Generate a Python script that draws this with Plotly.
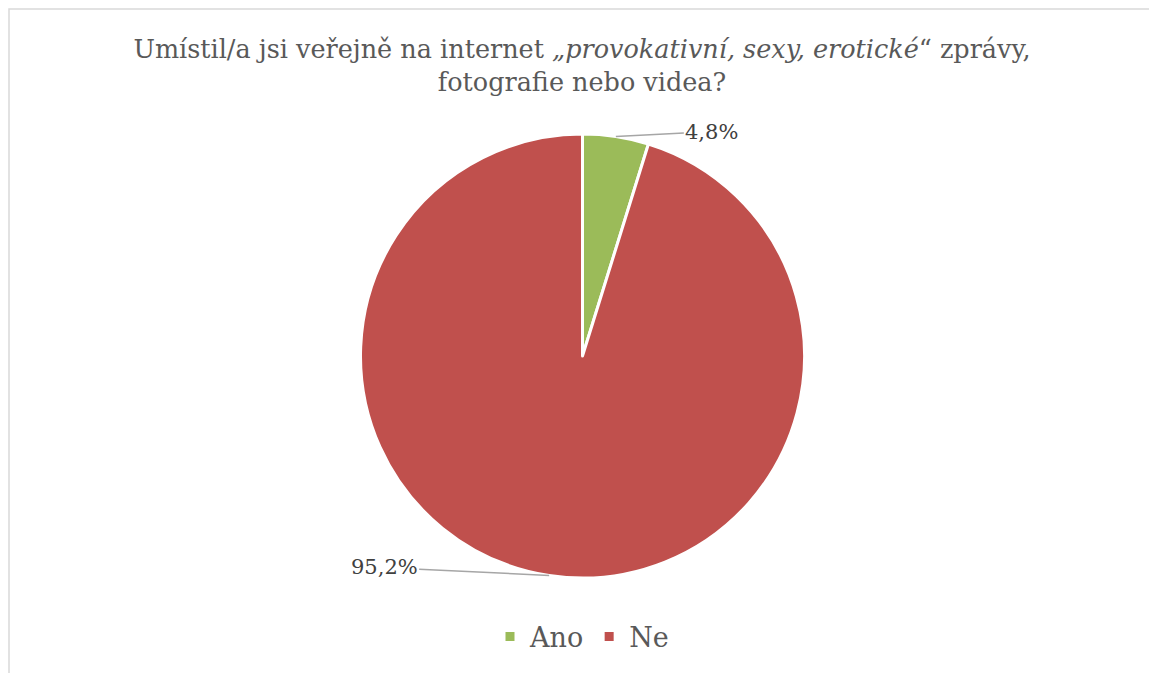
import math
import plotly.graph_objects as go

categories = ["Ano", "Ne"]
values = [4.8, 95.2]
colors = ["#9BBB59", "#C0504D"]
label_offsets = [(96, -5), (-165, -8)]  # pixel offset of label text from slice edge

W, H = 1157, 673
OFF = 8  # page body margin
SERIF = "DejaVu Serif, serif"

def px_(x):
    return (x - OFF) / W

def py_(y):
    return 1 - (y - OFF) / H

cx, cy, r = 582.5, 356, 222

fig = go.Figure(go.Pie(
    labels=categories, values=values, sort=False, direction="clockwise", rotation=0,
    marker=dict(colors=colors, line=dict(color="white", width=3)),
    textinfo="none", hoverinfo="label+percent",
    domain=dict(x=[px_(cx - r), px_(cx + r)], y=[py_(cy + r), py_(cy - r)]),
))

total = sum(values)
cum = 0
annotations = []
for v, (ax, ay) in zip(values, label_offsets):
    mid = (cum + v / 2) / total * 2 * math.pi
    cum += v
    ex = cx + r * math.sin(mid)
    ey = cy - r * math.cos(mid)
    annotations.append(dict(
        x=px_(ex), y=py_(ey), xref="paper", yref="paper",
        text=f"{v:.1f}".replace(".", ",") + "%",
        showarrow=True, arrowhead=0, arrowwidth=1.5, arrowcolor="#A6A6A6",
        ax=ax, ay=ay, standoff=0,
        font=dict(family=SERIF, size=21, color="#404040"),
    ))

fig.update_layout(
    width=W, height=H,
    margin=dict(l=0, r=0, t=0, b=0),
    paper_bgcolor="white", plot_bgcolor="white",
    title=dict(
        text="Umístil/a jsi veřejně na internet <i>„provokativní, sexy, erotické</i>“ zprávy,<br>fotografie nebo videa?",
        x=px_(582), xanchor="center", y=py_(58), yanchor="top",
        font=dict(family=SERIF, size=25.5, color="#595959"),
    ),
    legend=dict(
        orientation="h", x=px_(582), xanchor="center", y=py_(637), yanchor="middle",
        font=dict(family=SERIF, size=27, color="#595959"),
    ),
    annotations=annotations,
    shapes=[dict(type="rect", xref="paper", yref="paper",
                 x0=1 / W, x1=1.02, y0=-0.02, y1=1 - 1 / H,
                 line=dict(color="#D9D9D9", width=1.5))],
)

fig.write_html("out.html")
